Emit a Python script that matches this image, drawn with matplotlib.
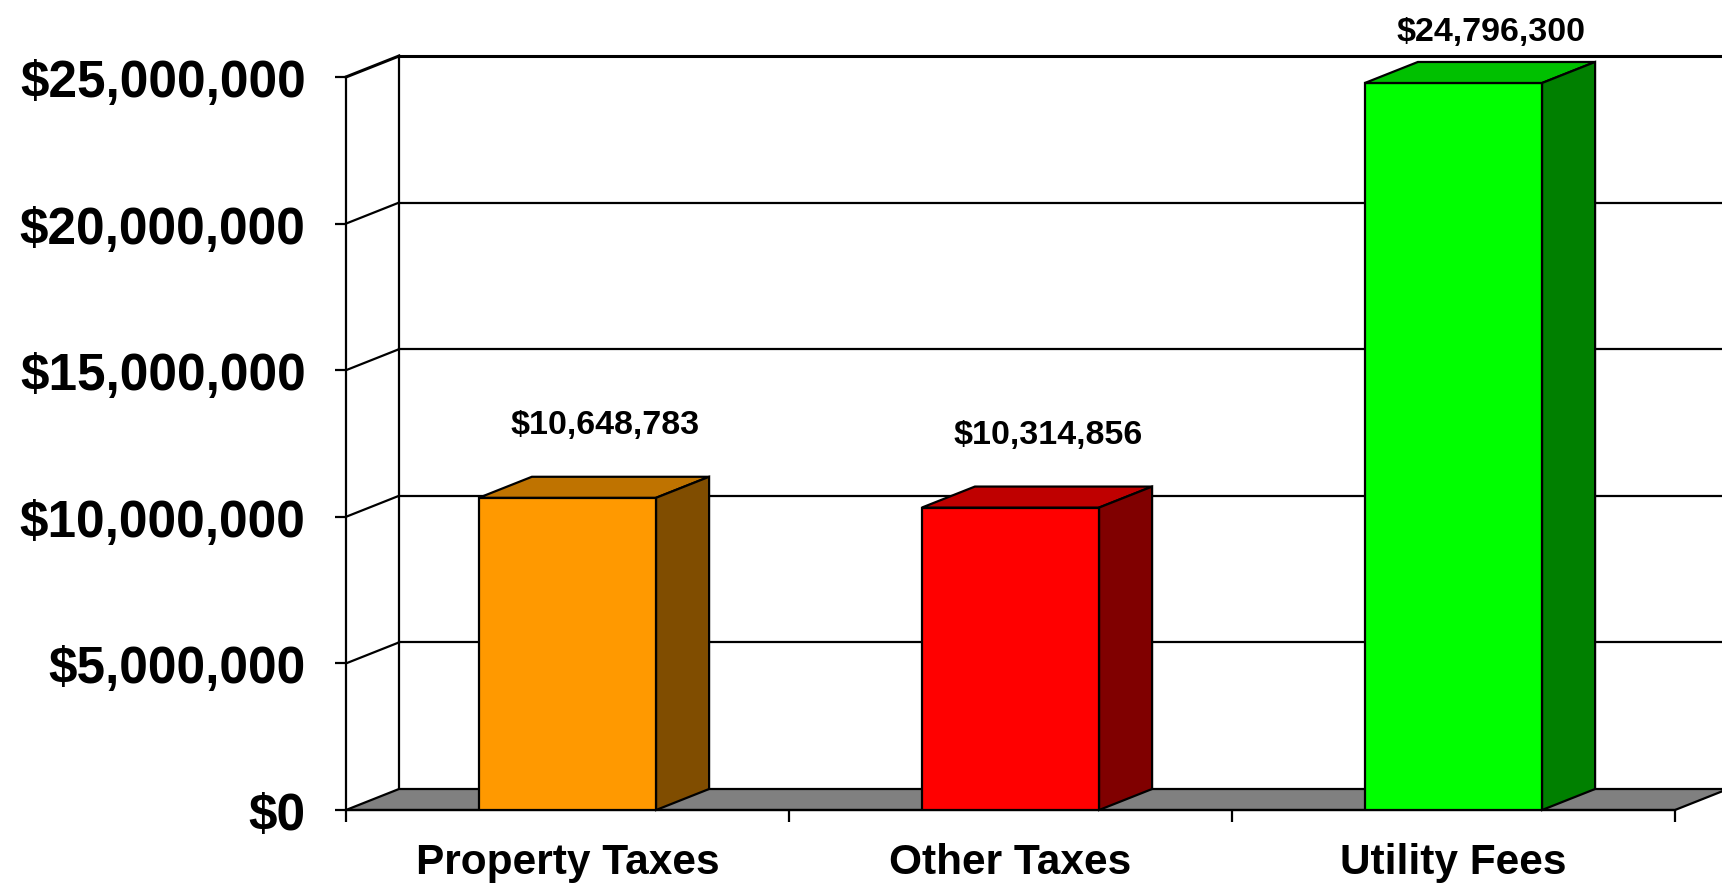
import matplotlib
matplotlib.use("Agg")
import matplotlib.pyplot as plt
from matplotlib.patches import Polygon

# Datos
categories = ["Property Taxes", "Other Taxes", "Utility Fees"]
values = [10648783, 10314856, 24796300]
front_colors = ["#FF9900", "#FF0000", "#00FF00"]
top_colors = ["#BF7300", "#BF0000", "#00C000"]
side_colors = ["#804D00", "#800000", "#008000"]
y_ticks = [0, 5000000, 10000000, 15000000, 20000000, 25000000]

plt.rcParams["font.family"] = ["Liberation Sans", "DejaVu Sans"]
plt.rcParams["font.weight"] = "bold"

W, H = 1722, 887
fig = plt.figure(figsize=(W / 100, H / 100), dpi=100)

# plano frontal del gráfico en píxeles
x0, x1, y0, y1 = 346, 1675, 811, 78
ax = fig.add_axes([x0 / W, (H - y0) / H, (x1 - x0) / W, (y0 - y1) / H])
n = len(categories)
ax.set_xlim(-0.5, n - 0.5)
ax.set_ylim(0, y_ticks[-1])

# profundidad 3D (53 px a la derecha, 21 px hacia arriba)
dx = 53 / ((x1 - x0) / n)
dy = 21 / ((y0 - y1) / y_ticks[-1])
lw = 1.6

# pared del fondo y lateral
for v in y_ticks[1:]:
    glw = 2.2 if v == y_ticks[-1] else lw
    ax.plot([-0.5 + dx, n - 0.5 + 2 * dx], [v + dy, v + dy], color="black", lw=glw,
            clip_on=False, zorder=1)
    ax.plot([-0.5, -0.5 + dx], [v, v + dy], color="black", lw=glw, clip_on=False, zorder=1)
ax.plot([-0.5 + dx, -0.5 + dx], [dy, y_ticks[-1] + dy], color="black", lw=lw,
        clip_on=False, zorder=1)

# suelo gris
floor = Polygon([(-0.5, 0), (n - 0.5, 0), (n - 0.5 + dx, dy), (-0.5 + dx, dy)],
                closed=True, facecolor="#808080", edgecolor="black", lw=lw,
                clip_on=False, zorder=2)
ax.add_patch(floor)

# barras 3D
bw = 0.4
xs = list(range(n))
ax.bar(xs, values, width=bw, color=front_colors, edgecolor="black", linewidth=lw, zorder=4)
for i, v in enumerate(values):
    l, r = i - bw / 2, i + bw / 2
    top = Polygon([(l, v), (r, v), (r + dx, v + dy), (l + dx, v + dy)], closed=True,
                  facecolor=top_colors[i], edgecolor="black", lw=lw, clip_on=False, zorder=4)
    side = Polygon([(r, 0), (r + dx, dy), (r + dx, v + dy), (r, v)], closed=True,
                   facecolor=side_colors[i], edgecolor="black", lw=lw, clip_on=False, zorder=4)
    ax.add_patch(top)
    ax.add_patch(side)
    ax.text(i + 0.084, min(v + 2.5e6, 26.55e6), "${:,.0f}".format(v), ha="center",
            va="center", fontsize=24.5, fontweight="bold", clip_on=False, zorder=5)

# ejes
for s in ["top", "right"]:
    ax.spines[s].set_visible(False)
for s in ["left", "bottom"]:
    ax.spines[s].set_linewidth(lw)
    ax.spines[s].set_zorder(3)

ax.set_yticks(y_ticks)
ax.set_yticklabels(["${:,.0f}".format(t) for t in y_ticks])
ax.tick_params(axis="y", length=8, width=lw, pad=21, labelsize=37)

ax.set_xticks([i - 0.5 for i in range(n + 1)])
ax.set_xticklabels([])
ax.set_xticks(xs, minor=True)
ax.set_xticklabels(categories, minor=True)
ax.tick_params(axis="x", which="major", length=8.6, width=lw)
ax.tick_params(axis="x", which="minor", length=0, pad=23, labelsize=30.5)
for lab in ax.get_xticklabels(minor=True) + ax.get_yticklabels():
    lab.set_fontweight("bold")

fig.savefig("out.png", dpi=100)
